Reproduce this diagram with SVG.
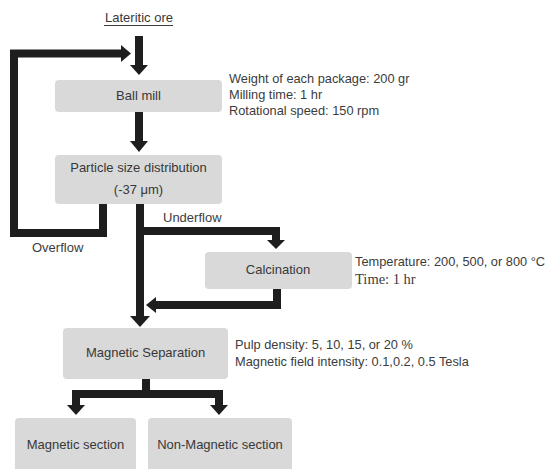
<svg xmlns="http://www.w3.org/2000/svg" width="549" height="469" viewBox="0 0 549 469">
<style>
.box{fill:#d9d9d9;}
.lbl{font-family:"Liberation Sans",Arial,sans-serif;font-size:13px;fill:#383838;text-anchor:middle;}
.ann{font-family:"Liberation Sans",Arial,sans-serif;font-size:12.8px;fill:#3c3c3c;}
.flow{font-family:"Liberation Sans",Arial,sans-serif;font-size:13px;fill:#3c3c3c;}
.ser{font-family:"Liberation Serif","Times New Roman",serif;font-size:14.5px;fill:#3c3c3c;}
.ln{fill:none;stroke:#1e1e1e;stroke-width:8;stroke-linejoin:miter;stroke-linecap:butt;}
.hd{fill:#1e1e1e;}
</style>
<rect width="549" height="469" fill="#ffffff"/>
<g id="ore">
<text class="lbl" x="139" y="22">Lateritic ore</text>
<line x1="104" y1="25.5" x2="173" y2="25.5" stroke="#3c3c3c" stroke-width="1"/>
</g>
<g id="ballmill">
<rect class="box" x="55" y="80" width="167" height="32" rx="4"/>
<text class="lbl" x="138.5" y="100">Ball mill</text>
</g>
<g id="ballmill-notes">
<text class="ann" x="229" y="83">Weight of each package: 200 gr</text>
<text class="ann" x="229" y="99">Milling time: 1 hr</text>
<text class="ann" x="229" y="115">Rotational speed: 150 rpm</text>
</g>
<g id="psd">
<rect class="box" x="55" y="155" width="167" height="49" rx="4"/>
<text class="lbl" x="138.5" y="172">Particle size distribution</text>
<text class="lbl" x="138.5" y="194">(-37 μm)</text>
</g>
<g id="calcination">
<rect class="box" x="205" y="252" width="147" height="37" rx="4"/>
<text class="lbl" x="278" y="274">Calcination</text>
</g>
<g id="calcination-notes">
<text class="ann" x="355" y="266">Temperature: 200, 500, or 800 °C</text>
<text class="ser" x="355" y="284">Time: 1 hr</text>
</g>
<g id="magsep">
<rect class="box" x="63" y="328" width="165" height="51" rx="4"/>
<text class="lbl" x="145.5" y="357">Magnetic Separation</text>
</g>
<g id="magsep-notes">
<text class="ann" x="235" y="349">Pulp density: 5, 10, 15, or 20 %</text>
<text class="ann" x="235" y="366">Magnetic field intensity: 0.1,0.2, 0.5 Tesla</text>
</g>
<g id="magnetic">
<rect class="box" x="15" y="418" width="121" height="60" rx="4"/>
<text class="lbl" x="75.5" y="449">Magnetic section</text>
</g>
<g id="nonmagnetic">
<rect class="box" x="148" y="418" width="144" height="60" rx="4"/>
<text class="lbl" x="220" y="449">Non-Magnetic section</text>
</g>
<g id="connectors">
<path class="ln" d="M139 36 V66"/>
<polygon class="hd" points="130,65 148,65 139,75"/>
<path class="ln" d="M139 112 V142"/>
<polygon class="hd" points="130,141 148,141 139,152"/>
<path class="ln" d="M103 204 V233 H14 V53.5 H122"/>
<polygon class="hd" points="121,45 121,62 131,53.5"/>
<path class="ln" d="M140 204 V317"/>
<polygon class="hd" points="130,316 150,316 140,327"/>
<path class="ln" d="M140 231 H276 V241"/>
<polygon class="hd" points="267,240 285,240 276,249"/>
<path class="ln" d="M277 289 V305 H155"/>
<polygon class="hd" points="156,297 156,313 146,305"/>
<path class="ln" d="M146 379 V394"/>
<path class="ln" d="M76 406 V394 H219 V406"/>
<polygon class="hd" points="67,405 85,405 76,415"/>
<polygon class="hd" points="210,405 228,405 219,415"/>
<text class="flow" x="32" y="252">Overflow</text>
<text class="flow" x="163" y="222">Underflow</text>
</g>
</svg>
